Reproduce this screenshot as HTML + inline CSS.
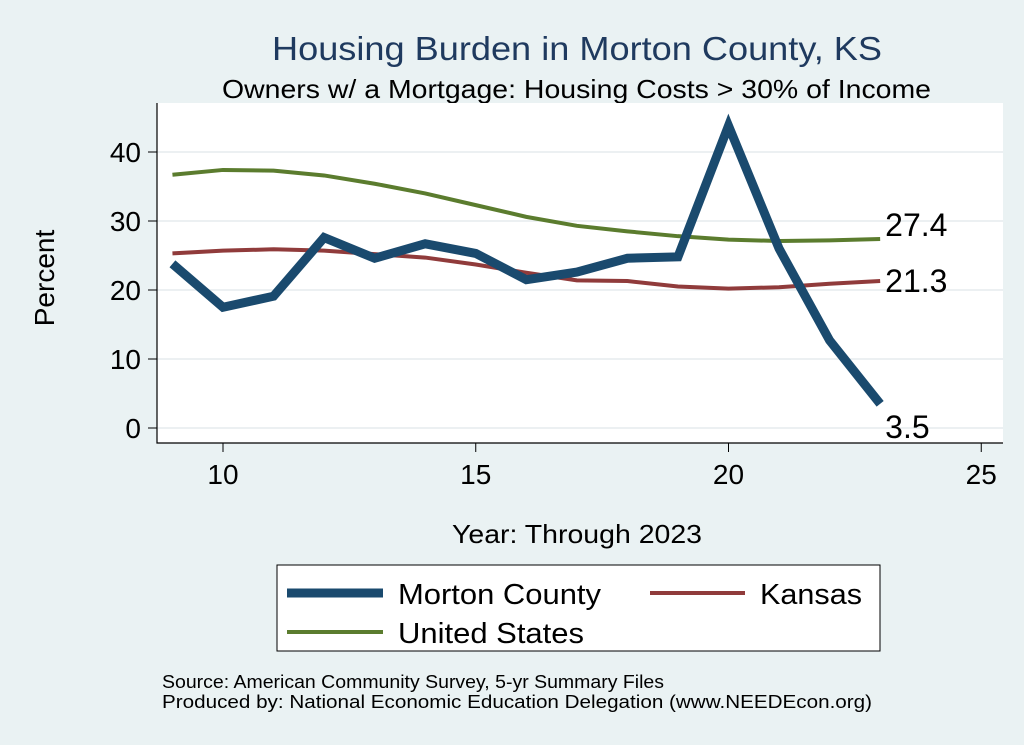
<!DOCTYPE html>
<html><head><meta charset="utf-8"><style>
body{margin:0;background:#eaf2f3;font-family:"Liberation Sans",sans-serif;}
svg{display:block}
</style></head><body>
<svg width="1024" height="745">
<rect x="0" y="0" width="1024" height="745" fill="#eaf2f3"/>
<text x="272" y="60" font-size="33" fill="#1f3a5f" textLength="610" lengthAdjust="spacingAndGlyphs">Housing Burden in Morton County, KS</text>
<text x="222" y="98" font-size="26" fill="#000" textLength="709" lengthAdjust="spacingAndGlyphs">Owners w/ a Mortgage: Housing Costs &gt; 30% of Income</text>
<rect x="157" y="103" width="846" height="340" fill="#fff"/>
<g id="grid"></g>
<g id="axes"></g>
<g id="series"></g>
<text x="54" y="278" font-size="28" text-anchor="middle" transform="rotate(-90 54 278)">Percent</text>
<text x="452" y="543" font-size="26" textLength="250" lengthAdjust="spacingAndGlyphs">Year: Through 2023</text>
<g>
<rect x="277" y="565" width="603" height="86" fill="#fff" stroke="#000" stroke-width="1"/>
<g><line x1="287" y1="593" x2="383" y2="593" stroke="#1a4a6e" stroke-width="9"/><text x="398" y="604" font-size="29" textLength="203" lengthAdjust="spacingAndGlyphs">Morton County</text></g>
<g><line x1="650" y1="593" x2="745" y2="593" stroke="#903b3b" stroke-width="4"/><text x="760" y="604" font-size="29" textLength="102" lengthAdjust="spacingAndGlyphs">Kansas</text></g>
<g><line x1="287" y1="632" x2="383" y2="632" stroke="#5b7c2e" stroke-width="4"/><text x="398" y="643" font-size="29" textLength="186" lengthAdjust="spacingAndGlyphs">United States</text></g>
</g>
<text x="162" y="688" font-size="18" textLength="502" lengthAdjust="spacingAndGlyphs">Source: American Community Survey, 5-yr Summary Files</text>
<text x="162" y="708" font-size="18" textLength="710" lengthAdjust="spacingAndGlyphs">Produced by: National Economic Education Delegation (www.NEEDEcon.org)</text>
</svg>
<script>
const years=[9,10,11,12,13,14,15,16,17,18,19,20,21,22,23];
const morton=[23.8,17.5,19.1,27.6,24.6,26.7,25.3,21.5,22.6,24.6,24.8,43.8,26.0,12.7,3.5];
const kansas=[25.3,25.7,25.9,25.7,25.2,24.7,23.7,22.5,21.4,21.3,20.5,20.2,20.4,20.9,21.3];
const us=[36.7,37.4,37.3,36.6,35.4,34.0,32.3,30.6,29.3,28.5,27.8,27.3,27.1,27.2,27.4];
const xTicks=[10,15,20,25];
const yTicks=[0,10,20,30,40];
const NS="http://www.w3.org/2000/svg";
const X=v=>223+(v-10)*50.55, Y=v=>428-v*6.9;
function mk(tag,attrs,parent){const e=document.createElementNS(NS,tag);for(const k in attrs)e.setAttribute(k,attrs[k]);document.getElementById(parent).appendChild(e);return e;}
yTicks.forEach(t=>{
 const g=mk('line',{x1:157,x2:1003,y1:Y(t),y2:Y(t),stroke:'#e6ecee','stroke-width':1.5},'grid');
 
 
 const tk=mk('line',{x1:148,x2:157,y1:Y(t),y2:Y(t),stroke:'#000'},'axes');
 
 
 const lb=mk('text',{x:141,y:Y(t)+10,'font-size':28,'text-anchor':'end'},'axes');lb.textContent=t;
 
 
});
xTicks.forEach(t=>{
 const tk=mk('line',{x1:X(t),x2:X(t),y1:443,y2:452,stroke:'#000'},'axes');
 
 
 const lb=mk('text',{x:X(t),y:484,'font-size':28,'text-anchor':'middle'},'axes');lb.textContent=t;
 
 
});
const ax=mk('path',{d:'M157 103V443H1003',fill:'none',stroke:'#000','stroke-width':1.2},'axes');


function line(arr,color,w,name){
 const p=mk('polyline',{points:arr.map((v,i)=>X(years[i])+','+Y(v)).join(' '),fill:'none',stroke:color,'stroke-width':w,'stroke-linejoin':'miter'},'series');
 
 
 const last=arr[arr.length-1];
 const t=mk('text',{x:X(years[years.length-1])+5,y:Y(last)-3,'font-size':32},'series');
 t.textContent=last.toFixed(1);
 
 
 return t;
}
line(us,'#5b7c2e',4,'series-us');
const kt=line(kansas,'#903b3b',4,'series-kansas');
kt.setAttribute('y',Y(kansas[kansas.length-1])+11);
const mt=line(morton,'#1a4a6e',9,'series-morton');
mt.setAttribute('y',Y(morton[morton.length-1])+34);
</script>
</body></html>
